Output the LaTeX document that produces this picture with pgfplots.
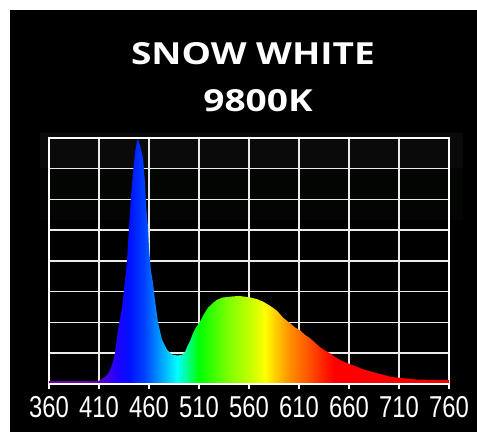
\documentclass[border=0pt]{standalone}
\usepackage{pgfplots}
\pgfplotsset{compat=1.18}
\usepackage{fontspec}
\setmainfont{Liberation Sans}
\newfontfamily\titlefont{Open Sans}[FakeStretch=1.22]
\newfontfamily\tickfont{Liberation Sans}[FakeStretch=0.79]
\definecolor{sp1}{HTML}{6A00B0}
\definecolor{sp2}{HTML}{5000E0}
\definecolor{sp3}{HTML}{2000FF}
\definecolor{sp4}{HTML}{0010FF}
\definecolor{sp5}{HTML}{0040FF}
\definecolor{sp6}{HTML}{0080FF}
\definecolor{sp7}{HTML}{00B8FF}
\definecolor{sp8}{HTML}{00FFFF}
\definecolor{sp9}{HTML}{00FF90}
\definecolor{sp10}{HTML}{00FF00}
\definecolor{sp11}{HTML}{80FF00}
\definecolor{sp12}{HTML}{C0FF00}
\definecolor{sp13}{HTML}{FFFF00}
\definecolor{sp14}{HTML}{FFD000}
\definecolor{sp15}{HTML}{FF9000}
\definecolor{sp16}{HTML}{FF6000}
\definecolor{sp17}{HTML}{FF2800}
\definecolor{sp18}{HTML}{FF0000}
\definecolor{bgA}{HTML}{0A0A0A}
\definecolor{bgB}{HTML}{030503}
\pgfdeclarehorizontalshading{spectrum}{100bp}{%
color(0bp)=(sp1); color(25bp)=(sp1); color(30.6bp)=(sp1); color(31.9bp)=(sp2);
color(33.5bp)=(sp3); color(35bp)=(sp4); color(36.9bp)=(sp5); color(38.25bp)=(sp6);
color(39.5bp)=(sp7); color(41bp)=(sp8); color(42.25bp)=(sp9); color(43.75bp)=(sp10);
color(47.5bp)=(sp11); color(50bp)=(sp12); color(52bp)=(sp13); color(53.25bp)=(sp14);
color(55bp)=(sp15); color(57bp)=(sp16); color(59bp)=(sp17); color(60.6bp)=(sp18);
color(75bp)=(sp18); color(100bp)=(sp18)}
\pgfplotstableread{
nm val
360 1.2
380 1.2
400 1.2
410 1.3
413 2.0
418 3.5
421 5.7
424 9
426 12.6
429 22
433 31
436 42
438 50
440 64
442 76
444 86
446 94
448 99
449 99.5
451 97
454 92
456 82
457 73
459 64
460 55
462 46
464 41
466 34
469 25
473 18
478 14
483 12
488 11.6
493 11.8
496 13
498 15
501 17.5
504 20.6
507 23
511 25.3
515 28.5
519 31
524 33
528 34.2
533 35.1
541 35.5
550 35.8
561 35.2
568 34.5
574 33.5
581 31.8
588 29.8
594 27
601 24.7
606 23
611 21.8
616 20
621 18.6
626 16.8
631 15
636 13.6
641 12.5
646 11
651 9.8
656 8.8
661 8.1
668 7
674 6
681 5.2
688 4.4
694 3.8
701 3
706 2.7
711 2.5
720 2.1
728 1.8
740 1.7
750 1.6
760 1.6
}\spec
\begin{document}
\begin{tikzpicture}
\useasboundingbox (0,0) rectangle (477bp,432bp);
\fill[white] (0,0) rectangle (477bp,432bp);
\fill[black] (10bp,0) rectangle (477bp,422bp);
\fill[bgB] (40bp,212bp) rectangle (463bp,264bp);
\fill[bgA] (40bp,264bp) rectangle (463bp,299bp);
\node[white, anchor=base, inner sep=0, font=\titlefont\bfseries\fontsize{30.5}{36}\selectfont] at (253bp,367bp) {SNOW WHITE};
\node[white, anchor=base, inner sep=0, font=\titlefont\bfseries\fontsize{30.5}{36}\selectfont] at (258bp,320bp) {9800K};
\begin{axis}[
  at={(49bp,48bp)}, anchor=south west,
  width=400bp, height=246bp, scale only axis,
  xmin=360, xmax=760, ymin=0, ymax=100,
  xtick={360,410,460,510,560,610,660,710,760},
  xticklabels={360,410,460,510,560,610,660,710,760},
  ytick={0,12.5,25,37.5,50,62.5,75,87.5,100},
  yticklabels={},
  grid=major,
  major grid style={white!92!black, line width=1.5bp},
  axis line style={white, line width=1.5bp},
  ytick style={draw=none},
  xtick pos=left,
  tick align=outside,
  major tick length=5bp,
  xtick style={white, line width=1.2bp},
  xticklabel style={white, yshift=-4bp, font=\tickfont\fontsize{30.3}{30.3}\selectfont},
]
\addplot[draw=none, shading=spectrum] table[x=nm, y=val] {\spec} \closedcycle;
\draw[white, line width=1.5bp] (rel axis cs:0,0) -- (rel axis cs:1,0);
\end{axis}
\end{tikzpicture}
\end{document}
